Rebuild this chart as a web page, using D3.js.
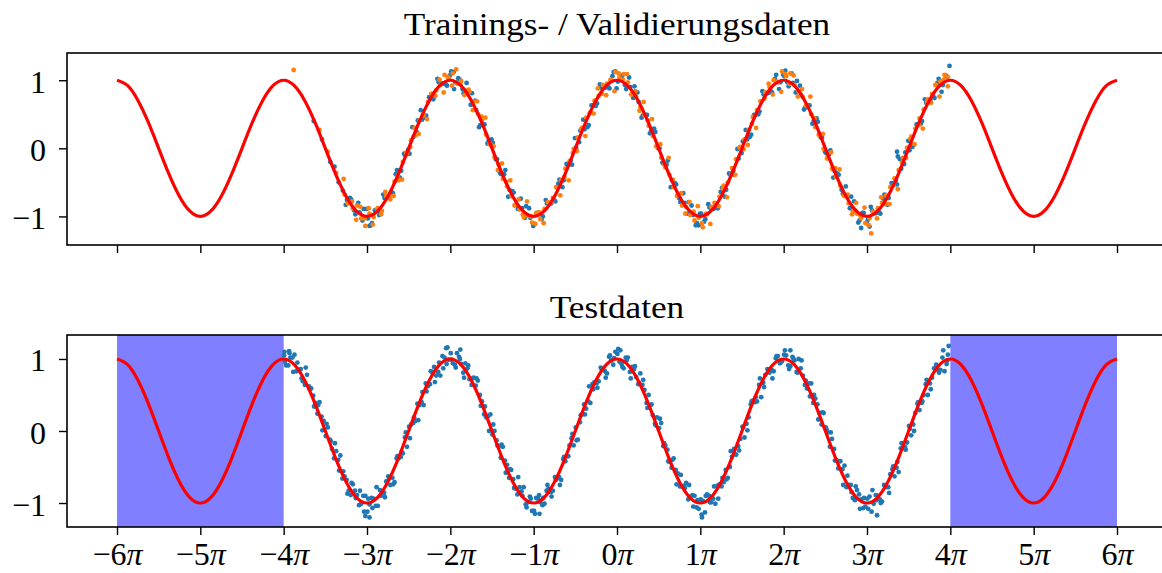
<!DOCTYPE html>
<html>
<head>
<meta charset="utf-8">
<script src="https://d3js.org/d3.v7.min.js"></script>
<style>
  body { margin: 0; background: #fff; }
  svg text { font-family: "Liberation Serif", "Times New Roman", serif; fill: #000; }
</style>
</head>
<body>
<script>
// all x values are in units of pi

const xTicks = [-6, -5, -4, -3, -2, -1, 0, 1, 2, 3, 4, 5, 6];
const xTickLabels = ["−6", "−5", "−4", "−3", "−2", "−1", "0", "1", "2", "3", "4", "5", "6"];
const yTicks = [-1, 0, 1];
const yTickLabels = ["−1", "0", "1"];
const titles = ["Trainings- / Validierungsdaten", "Testdaten"];

// red reference curve, one value every pi/8 from -6pi to 6pi
const curveY = [
  1, .924, .707, .383, 0, -.383, -.707, -.924, -1, -.924, -.707, -.383, 0, .383, .707, .924,
  1, .924, .707, .383, 0, -.383, -.707, -.924, -1, -.924, -.707, -.383, 0, .383, .707, .924,
  1, .924, .707, .383, 0, -.383, -.707, -.924, -1, -.924, -.707, -.383, 0, .383, .707, .924,
  1, .924, .707, .383, 0, -.383, -.707, -.924, -1, -.924, -.707, -.383, 0, .383, .707, .924,
  1, .924, .707, .383, 0, -.383, -.707, -.924, -1, -.924, -.707, -.383, 0, .383, .707, .924,
  1, .924, .707, .383, 0, -.383, -.707, -.924, -1, -.924, -.707, -.383, 0, .383, .707, .924,
  1
];

// shaded ranges in the test panel
const testRegions = [[-6, -4], [4, 6]];

// training points (blue)
const trainPts = [
  [-3.64,0.40],[-3.54,0.13],[-3.44,-0.20],[-3.39,-0.27],[-3.34,-0.50],[-3.29,-0.62],[-3.24,-0.76],
  [-3.19,-0.75],[-3.14,-0.97],[-3.09,-0.94],[-3.04,-0.89],[-2.99,-1.03],[-2.94,-1.10],[-2.89,-0.91],[-2.84,-0.94],[-2.79,-0.73],[-2.74,-0.71],
  [-2.69,-0.66],[-2.64,-0.32],[-2.59,-0.33],[-2.54,-0.10],[-2.49,-0.08],[-2.44,0.17],[-2.39,0.41],[-2.34,0.42],[-2.29,0.48],[-2.24,0.75],
  [-2.19,0.76],[-2.14,0.97],[-2.09,0.95],[-2.04,0.92],[-1.99,1.13],[-1.94,0.97],[-1.89,1.01],[-1.84,0.81],[-1.79,0.82],[-1.74,0.81],
  [-1.69,0.56],[-1.64,0.34],[-1.59,0.35],[-1.54,0.11],[-1.49,0.08],[-1.44,-0.16],[-1.39,-0.38],[-1.34,-0.32],[-1.29,-0.61],[-1.24,-0.65],
  [-1.19,-0.89],[-1.14,-0.88],[-1.09,-0.85],[-1.04,-1.02],[-0.99,-1.11],[-0.94,-0.95],[-0.89,-1.00],[-0.84,-0.81],[-0.79,-0.81],[-0.74,-0.78],
  [-0.69,-0.46],[-0.64,-0.47],[-0.59,-0.25],[-0.54,-0.24],[-0.49,0.01],[-0.44,0.26],[-0.39,0.28],[-0.34,0.34],[-0.29,0.63],[-0.24,0.66],
  [-0.19,0.89],[-0.14,0.89],[-0.09,0.88],[-0.04,1.12],[0.01,0.98],[0.06,1.05],[0.11,0.87],[0.16,0.90],[0.21,0.91],[0.26,0.68],
  [0.31,0.48],[0.36,0.49],[0.41,0.26],[0.46,0.24],[0.51,0.00],[0.56,-0.23],[0.61,-0.18],[0.66,-0.47],[0.71,-0.53],[0.76,-0.79],
  [0.81,-0.80],[0.86,-0.79],[0.91,-0.98],[0.96,-1.10],[1.01,-0.96],[1.06,-1.04],[1.11,-0.87],[1.16,-0.89],[1.21,-0.88],[1.26,-0.58],
  [1.31,-0.61],[1.36,-0.39],[1.41,-0.39],[1.46,-0.15],[1.51,0.10],[1.56,0.13],[1.61,0.20],[1.66,0.49],[1.71,0.54],[1.76,0.79],
  [1.81,0.81],[1.86,0.82],[1.91,1.08],[1.96,0.97],[2.01,1.06],[2.06,0.91],[2.11,0.96],[2.16,0.99],[2.21,0.78],[2.26,0.60],
  [2.31,0.63],[2.36,0.40],[2.41,0.39],[2.46,0.16],[2.51,-0.07],[2.56,-0.03],[2.61,-0.33],[2.66,-0.39],[2.71,-0.67],[2.76,-0.70],
  [2.81,-0.71],[2.86,-0.92],[2.91,-1.06],[2.96,-0.95],[3.01,-1.05],[3.06,-0.91],[3.11,-0.95],[3.16,-0.96],[3.21,-0.68],[3.26,-0.73],
  [3.31,-0.53],[3.36,-0.53],[3.41,-0.30],[3.46,-0.06],[3.51,-0.03],[3.56,0.05],[3.61,0.35],[3.66,0.40],[3.71,0.67],[3.76,0.71],
  [3.81,0.74],[3.86,1.02],[3.91,0.93],[3.96,1.05],
  [3.36,-0.05],[3.37,-0.12],[3.99,1.21],[2.93,-1.17],[3.03,-1.15],[-2.97,-1.14],[0.98,-1.13],[-0.02,1.13],[2.02,1.14],[-1.96,1.12],
  // second batch
  [-3.255,-0.83],[-3.205,-0.73],[-3.155,-0.91],[-3.105,-0.80],[-3.055,-1.06],[-3.005,-0.89],[-2.955,-1.13],[-2.905,-0.91],[-2.855,-0.98],[-2.805,-0.68],
  [-2.755,-0.71],[-2.705,-0.64],[-2.655,-0.38],[-2.605,-0.43],[-2.555,-0.08],[-2.505,-0.02],[-2.455,0.31],[-2.405,0.24],[-2.355,0.56],[-2.305,0.45],
  [-2.255,0.75],[-2.205,0.72],[-2.155,1.02],[-2.105,0.95],[-2.055,0.94],[-2.005,1.07],[-1.955,0.87],[-1.905,1.03],[-1.855,0.87],[-1.805,0.96],
  [-1.755,0.64],[-1.705,0.70],[-1.655,0.31],[-1.605,0.35],[-1.555,0.07],[-1.505,0.13],[-1.455,-0.16],[-1.405,-0.36],[-1.355,-0.38],[-1.305,-0.71],
  [-1.255,-0.63],[-1.205,-0.83],[-1.155,-0.74],[-1.105,-1.02],[-1.055,-0.88],[-1.005,-1.14],[-0.955,-0.95],[-0.905,-1.04],[-0.855,-0.76],[-0.805,-0.81],
  [-0.755,-0.76],[-0.705,-0.52],[-0.655,-0.57],[-0.605,-0.23],[-0.555,-0.18],[-0.505,0.15],[-0.455,0.09],[-0.405,0.42],[-0.355,0.31],[-0.305,0.63],
  [-0.255,0.62],[-0.205,0.94],[-0.155,0.89],[-0.105,0.90],[-0.055,1.06],[-0.005,0.88],[0.045,1.07],[0.095,0.93],[0.145,1.04],[0.195,0.74],
  [0.245,0.82],[0.295,0.45],[0.345,0.49],[0.395,0.22],[0.445,0.29],[0.495,0.00],[0.545,-0.21],[0.595,-0.24],[0.645,-0.57],[0.695,-0.51],
  [0.745,-0.73],[0.795,-0.66],[0.845,-0.96],[0.895,-0.84],[0.945,-1.13],[0.995,-0.96],[1.045,-1.08],[1.095,-0.82],[1.145,-0.89],[1.195,-0.86],
  [1.245,-0.64],[1.295,-0.71],[1.345,-0.37],[1.395,-0.33],[1.445,-0.01],[1.495,-0.07],[1.545,0.27],[1.595,0.17],[1.645,0.49],[1.695,0.50],
  [1.745,0.84],[1.795,0.81],[1.845,0.84],[1.895,1.02],[1.945,0.87],[1.995,1.08],[2.045,0.97],[2.095,1.10],[2.145,0.82],[2.195,0.92],
  [2.245,0.57],[2.295,0.63],[2.345,0.36],[2.395,0.44],[2.445,0.16],[2.495,-0.05],[2.545,-0.09],[2.595,-0.43],[2.645,-0.37],[2.695,-0.61],
  [2.745,-0.56],[2.795,-0.88],[2.845,-0.78],[2.895,-1.09],[2.945,-0.95],[2.995,-1.09],[3.045,-0.86],[3.095,-0.95],[3.145,-0.94],[3.195,-0.74],
  [3.245,-0.83],[3.295,-0.51],[3.345,-0.47],[3.395,-0.16],[3.445,-0.23],[3.495,0.11],[3.545,0.02],[3.595,0.35],[3.645,0.36],[3.695,0.72],
  [3.745,0.71],[3.795,0.76],[3.845,0.96],[3.895,0.83],[3.945,1.07]
];

// validation points (orange)
const valPts = [
  [-3.88,1.15],[-3.57,0.27],[-3.47,-0.05],[-3.37,-0.36],[-3.27,-0.68],[-3.22,-0.80],
  [-3.17,-0.88],[-3.12,-0.84],[-3.07,-1.03],[-3.02,-1.14],[-2.97,-0.96],[-2.92,-1.01],[-2.87,-0.88],[-2.82,-0.92],[-2.77,-0.70],[-2.72,-0.75],
  [-2.67,-0.49],[-2.62,-0.47],[-2.57,-0.20],[-2.52,-0.07],[-2.47,0.12],[-2.42,0.19],[-2.37,0.41],[-2.32,0.49],[-2.27,0.68],[-2.22,0.80],
  [-2.17,0.85],[-2.12,0.93],[-2.07,1.08],[-2.02,1.03],[-1.97,1.10],[-1.92,0.95],[-1.87,0.99],[-1.82,0.85],[-1.77,0.83],[-1.72,0.69],
  [-1.67,0.51],[-1.62,0.41],[-1.57,0.20],[-1.52,0.07],[-1.47,-0.13],[-1.42,-0.24],[-1.37,-0.45],[-1.32,-0.56],[-1.27,-0.70],[-1.22,-0.83],
  [-1.17,-0.90],[-1.12,-1.01],[-1.07,-0.99],[-1.02,-1.09],[-0.97,-0.95],[-0.92,-1.04],[-0.87,-0.89],[-0.82,-0.80],[-0.77,-0.73],[-0.72,-0.58],
  [-0.67,-0.47],[-0.62,-0.30],[-0.57,-0.19],[-0.52,-0.01],[-0.47,0.16],[-0.42,0.30],[-0.37,0.45],[-0.32,0.53],[-0.27,0.70],[-0.22,0.77],
  [-0.17,0.93],[-0.12,0.95],[-0.07,1.01],[-0.02,1.12],[0.03,1.04],[0.08,1.09],[0.13,0.97],[0.18,0.80],[0.23,0.76],[0.28,0.60],
  [0.33,0.48],[0.38,0.33],[0.43,0.18],[0.48,0.03],[0.53,-0.14],[0.58,-0.28],[0.63,-0.39],[0.68,-0.57],[0.73,-0.67],[0.78,-0.84],
  [0.83,-0.86],[0.88,-0.98],[0.93,-1.06],[0.98,-1.02],[1.03,-1.16],[1.08,-0.97],[1.13,-0.86],[1.18,-0.83],[1.23,-0.71],[1.28,-0.55],
  [1.33,-0.50],[1.38,-0.29],[1.43,-0.16],[1.48,0.02],[1.53,0.13],[1.58,0.27],[1.63,0.46],[1.68,0.56],[1.73,0.69],[1.78,0.82],
  [1.83,0.90],[1.88,1.00],[1.93,0.97],[1.98,1.13],[2.03,1.06],[2.08,1.10],[2.13,0.93],[2.18,0.84],[2.23,0.75],[2.28,0.62],
  [2.33,0.50],[2.38,0.31],[2.43,0.21],[2.48,-0.01],[2.53,-0.12],[2.58,-0.30],[2.63,-0.42],[2.68,-0.55],[2.73,-0.70],[2.78,-0.81],
  [2.83,-0.93],[2.88,-0.96],[2.93,-1.03],[2.98,-1.10],[3.03,-1.03],[3.05,-1.25],[3.08,-0.96],[3.13,-0.88],[3.18,-0.80],[3.23,-0.69],
  [3.28,-0.57],[3.33,-0.44],[3.38,-0.32],[3.43,-0.14],[3.48,0.01],[3.53,0.17],[3.58,0.29],[3.63,0.44],[3.68,0.57],[3.73,0.72],
  [3.78,0.80],[3.83,0.93],[3.88,0.98],[3.93,1.08],[3.97,1.05],
  // second batch
  [-3.28,-0.45],[-3.23,-0.81],[-3.18,-0.78],[-3.13,-1.05],[-3.08,-0.86],[-3.03,-1.03],[-2.98,-0.88],[-2.93,-1.12],[-2.88,-0.89],[-2.83,-0.97],
  [-2.78,-0.64],[-2.73,-0.72],[-2.68,-0.70],[-2.63,-0.40],[-2.58,-0.46],[-2.53,-0.06],[-2.48,0.02],[-2.43,0.30],[-2.38,0.21],[-2.33,0.48],
  [-2.28,0.43],[-2.23,0.80],[-2.18,0.77],[-2.13,1.01],[-2.08,0.82],[-2.03,1.05],[-1.98,0.92],[-1.93,1.16],[-1.88,0.94],[-1.83,0.78],
  [-1.78,0.86],[-1.73,0.56],[-1.68,0.69],[-1.63,0.47],[-1.58,0.45],[-1.53,0.06],[-1.48,0.03],[-1.43,-0.32],[-1.38,-0.22],[-1.33,-0.49],
  [-1.28,-0.47],[-1.23,-0.84],[-1.18,-0.75],[-1.13,-0.97],[-1.08,-0.78],[-1.03,-1.00],[-0.98,-1.11],[-0.93,-0.94],[-0.88,-1.10],[-0.83,-0.79],
  [-0.78,-0.79],[-0.73,-0.57],[-0.68,-0.69],[-0.63,-0.42],[-0.58,-0.47],[-0.53,-0.07],[-0.48,-0.04],[-0.43,0.28],[-0.38,0.18],[-0.33,0.51],
  [-0.28,0.51],[-0.23,0.88],[-0.18,0.80],[-0.13,0.78],[-0.08,1.00],[-0.03,0.84],[0.02,1.10],[0.07,1.01],[0.12,1.09],[0.17,0.79],
  [0.22,0.84],[0.27,0.55],[0.32,0.68],[0.37,0.41],[0.42,0.43],[0.47,0.03],[0.52,0.06],[0.57,-0.24],[0.62,-0.14],[0.67,-0.46],
  [0.72,-0.70],[0.77,-0.66],[0.82,-0.96],[0.87,-0.79],[0.92,-0.93],[0.97,-0.85],[1.02,-1.10],[1.07,-0.96],[1.12,-1.11],[1.17,-0.80],
  [1.22,-0.85],[1.27,-0.59],[1.32,-0.72],[1.37,-0.39],[1.42,-0.39],[1.47,0.01],[1.52,-0.01],[1.57,0.05],[1.62,0.36],[1.67,0.30],
  [1.72,0.69],[1.77,0.73],[1.82,0.95],[1.87,0.79],[1.92,0.98],[1.97,0.83],[2.02,1.09],[2.07,0.95],[2.12,1.07],[2.17,0.76],
  [2.22,0.87],[2.27,0.63],[2.32,0.76],[2.37,0.44],[2.42,0.20],[2.47,0.21],[2.52,-0.15],[2.57,-0.06],[2.62,-0.29],[2.67,-0.31],
  [2.72,-0.69],[2.77,-0.68],[2.82,-0.97],[2.87,-0.80],[2.92,-0.99],[2.97,-0.87],[3.02,-1.13],[3.07,-0.93],[3.12,-1.03],[3.17,-0.72],
  [3.22,-0.82],[3.27,-0.82],[3.32,-0.54],[3.37,-0.60],[3.42,-0.21],[3.47,-0.14],[3.52,0.14],[3.57,0.06],[3.62,0.34],[3.67,0.29],
  [3.72,0.68],[3.77,0.67],[3.82,0.93],[3.87,0.76],[3.92,1.01],[3.97,0.91]
];

// test points (blue, lower panel)
const testPts = [
  [-3.995,1.05],[-3.945,0.91],[-3.895,1.02],[-3.845,0.83],[-3.795,0.86],[-3.745,0.64],[-3.695,0.62],[-3.645,0.49],[-3.595,0.24],[-3.545,0.20],
  [-3.495,-0.07],[-3.445,-0.12],[-3.395,-0.38],[-3.345,-0.40],[-3.295,-0.66],[-3.245,-0.68],[-3.195,-0.89],[-3.145,-0.83],[-3.095,-1.03],[-3.045,-0.90],
  [-2.995,-1.12],[-2.945,-0.93],[-2.895,-1.04],[-2.845,-0.82],[-2.795,-0.86],[-2.745,-0.63],[-2.695,-0.65],[-2.645,-0.38],[-2.595,-0.36],[-2.545,-0.09],
  [-2.495,0.06],[-2.445,0.11],[-2.395,0.38],[-2.345,0.40],[-2.295,0.66],[-2.245,0.65],[-2.195,0.89],[-2.145,0.82],[-2.095,1.04],[-2.045,0.93],
  [-1.995,1.08],[-1.945,0.92],[-1.895,1.03],[-1.845,0.81],[-1.795,0.87],[-1.745,0.64],[-1.695,0.63],[-1.645,0.50],[-1.595,0.23],[-1.545,0.21],
  [-1.495,-0.05],[-1.445,-0.13],[-1.395,-0.37],[-1.345,-0.41],[-1.295,-0.65],[-1.245,-0.67],[-1.195,-0.88],[-1.145,-0.84],[-1.095,-1.02],[-1.045,-0.91],
  [-0.995,-1.11],[-0.945,-0.94],[-0.895,-1.03],[-0.845,-0.83],[-0.795,-0.85],[-0.745,-0.64],[-0.695,-0.64],[-0.645,-0.39],[-0.595,-0.35],[-0.545,-0.10],
  [-0.495,0.05],[-0.445,0.12],[-0.395,0.37],[-0.345,0.41],[-0.295,0.65],[-0.245,0.66],[-0.195,0.88],[-0.145,0.83],[-0.095,1.03],[-0.045,0.92],
  [0.005,1.07],[0.055,0.93],[0.105,1.02],[0.155,0.82],[0.205,0.86],[0.255,0.65],[0.305,0.64],[0.355,0.39],[0.405,0.36],[0.455,0.10],
  [0.505,0.04],[0.555,-0.21],[0.605,-0.26],[0.655,-0.51],[0.705,-0.54],[0.755,-0.77],[0.805,-0.76],[0.855,-0.95],[0.905,-0.89],[0.955,-1.06],
  [1.005,-0.95],[1.055,-1.13],[1.105,-0.90],[1.155,-0.94],[1.205,-0.76],[1.255,-0.77],[1.305,-0.54],[1.355,-0.50],[1.405,-0.25],[1.455,-0.21],
  [1.505,0.06],[1.555,0.10],[1.605,0.37],[1.655,0.40],[1.705,0.64],[1.755,0.67],[1.805,0.86],[1.855,0.85],[1.905,1.01],[1.955,0.94],
  [2.005,1.06],[2.055,0.91],[2.105,1.03],[2.155,0.82],[2.205,0.87],[2.255,0.64],[2.305,0.66],[2.355,0.39],[2.405,0.37],[2.455,0.09],
  [2.505,0.05],[2.555,-0.22],[2.605,-0.25],[2.655,-0.52],[2.705,-0.53],[2.755,-0.78],[2.805,-0.75],[2.855,-0.96],[2.905,-0.88],[2.955,-1.07],
  [3.005,-0.94],[3.055,-1.12],[3.105,-0.89],[3.155,-0.95],[3.205,-0.75],[3.255,-0.78],[3.305,-0.53],[3.355,-0.51],[3.405,-0.24],[3.455,-0.22],
  [3.505,0.07],[3.555,0.09],[3.605,0.38],[3.655,0.39],[3.705,0.65],[3.755,0.66],[3.805,0.87],[3.855,0.84],[3.905,1.02],[3.955,0.93],
  // second pass
  [-3.97,0.91],[-3.92,1.02],[-3.87,1.06],[-3.82,0.85],[-3.77,0.69],[-3.72,0.78],[-3.67,0.59],[-3.62,0.39],[-3.57,0.40],[-3.52,0.14],
  [-3.47,0.05],[-3.42,-0.25],[-3.37,-0.28],[-3.32,-0.34],[-3.27,-0.63],[-3.22,-0.83],[-3.17,-0.74],[-3.12,-0.89],[-3.07,-1.01],[-3.02,-0.90],
  [-2.97,-1.02],[-2.92,-0.94],[-2.87,-1.04],[-2.82,-0.86],[-2.77,-0.70],[-2.72,-0.75],[-2.67,-0.71],[-2.62,-0.38],[-2.57,-0.31],[-2.52,-0.22],
  [-2.47,0.09],[-2.42,0.14],[-2.37,0.36],[-2.32,0.36],[-2.27,0.62],[-2.22,0.82],[-2.17,0.77],[-2.12,0.77],[-2.07,1.02],[-2.02,0.99],
  [-1.97,0.94],[-1.92,1.08],[-1.87,0.93],[-1.82,0.94],[-1.77,0.72],[-1.72,0.74],[-1.67,0.70],[-1.62,0.41],[-1.57,0.19],[-1.52,0.23],
  [-1.47,0.00],[-1.42,-0.22],[-1.37,-0.22],[-1.32,-0.47],[-1.27,-0.54],[-1.22,-0.80],[-1.17,-0.78],[-1.12,-0.78],[-1.07,-0.99],[-1.02,-1.11],
  [-0.97,-0.93],[-0.92,-0.99],[-0.87,-1.01],[-0.82,-0.80],[-0.77,-0.83],[-0.72,-0.66],[-0.67,-0.68],[-0.62,-0.42],[-0.57,-0.20],[-0.52,-0.20],
  [-0.47,-0.12],[-0.42,0.23],[-0.37,0.31],[-0.32,0.39],[-0.27,0.68],[-0.22,0.69],[-0.17,0.86],[-0.12,0.80],[-0.07,0.98],[-0.02,1.10],
  [0.03,0.96],[0.08,0.87],[0.13,1.02],[0.18,0.89],[0.23,0.75],[0.28,0.80],[0.33,0.57],[0.38,0.50],[0.43,0.22],[0.48,0.19],
  [0.53,0.11],[0.58,-0.20],[0.63,-0.43],[0.68,-0.38],[0.73,-0.59],[0.78,-0.77],[0.83,-0.72],[0.88,-0.91],[0.93,-0.90],[0.98,-1.08],
  [1.03,-0.97],[1.08,-0.88],[1.13,-0.99],[1.18,-1.01],[1.23,-0.74],[1.28,-0.71],[1.33,-0.65],[1.38,-0.36],[1.43,-0.33],[1.48,-0.11],
  [1.53,-0.09],[1.58,0.19],[1.63,0.42],[1.68,0.41],[1.73,0.47],[1.78,0.78],[1.83,0.81],[1.88,0.83],[1.93,1.04],[1.98,0.97],
  [2.03,1.05],[2.08,0.90],[2.13,0.98],[2.18,1.00],[2.23,0.77],[2.28,0.59],[2.33,0.66],[2.38,0.45],[2.43,0.25],[2.48,0.25],
  [2.53,-0.02],[2.58,-0.11],[2.63,-0.40],[2.68,-0.42],[2.73,-0.48],[2.78,-0.75],[2.83,-0.93],[2.88,-0.82],[2.93,-0.95],[2.98,-1.05],
  [3.03,-0.91],[3.08,-1.01],[3.13,-0.90],[3.18,-0.98],[3.23,-0.78],[3.28,-0.60],[3.33,-0.63],[3.38,-0.57],[3.43,-0.24],[3.48,-0.16],
  [3.53,-0.06],[3.58,0.25],[3.63,0.29],[3.68,0.50],[3.73,0.50],[3.78,0.74],[3.83,0.92],[3.88,0.85],[3.93,0.83],[3.97,1.06],
  // third pass
  [-3.985,0.96],[-3.935,1.11],[-3.885,0.82],[-3.835,0.95],[-3.785,0.73],[-3.735,0.88],[-3.685,0.58],[-3.635,0.34],[-3.585,0.36],[-3.535,0.01],
  [-3.485,0.10],[-3.435,-0.14],[-3.385,-0.17],[-3.335,-0.55],[-3.285,-0.56],[-3.235,-0.87],[-3.185,-0.72],[-3.135,-0.93],[-3.085,-0.83],[-3.035,-1.12],
  [-2.985,-0.94],[-2.935,-1.07],[-2.885,-0.78],[-2.835,-0.90],[-2.785,-0.92],[-2.735,-0.66],[-2.685,-0.74],[-2.635,-0.35],[-2.585,-0.29],[-2.535,-0.02],
  [-2.485,-0.10],[-2.435,0.19],[-2.385,0.15],[-2.335,0.54],[-2.285,0.55],[-2.235,0.83],[-2.185,0.68],[-2.135,0.95],[-2.085,0.87],[-2.035,1.16],
  [-1.985,0.99],[-1.935,0.88],[-1.885,1.00],[-1.835,0.74],[-1.785,0.91],[-1.735,0.73],[-1.685,0.73],[-1.635,0.35],[-1.585,0.34],[-1.535,0.00],
  [-1.485,0.09],[-1.435,-0.20],[-1.385,-0.19],[-1.335,-0.58],[-1.285,-0.53],[-1.235,-0.79],[-1.185,-0.64],[-1.135,-0.90],[-1.085,-1.06],[-1.035,-0.94],
  [-0.985,-1.15],[-0.935,-0.89],[-0.885,-0.93],[-0.835,-0.75],[-0.785,-0.91],[-0.735,-0.68],[-0.685,-0.75],[-0.635,-0.36],[-0.585,-0.35],[-0.535,-0.04],
  [-0.485,-0.13],[-0.435,0.22],[-0.385,0.23],[-0.335,0.62],[-0.285,0.58],[-0.235,0.60],[-0.185,0.86],[-0.135,0.74],[-0.085,1.05],[-0.035,1.01],
  [0.015,1.14],[0.065,0.89],[0.115,0.98],[0.165,0.73],[0.215,0.90],[0.265,0.67],[0.315,0.71],[0.365,0.32],[0.415,0.37],[0.465,0.08],
  [0.515,0.17],[0.565,-0.17],[0.615,-0.42],[0.665,-0.40],[0.715,-0.74],[0.765,-0.61],[0.815,-0.79],[0.865,-0.75],[0.915,-1.05],[0.965,-0.96],
  [1.015,-1.16],[1.065,-0.90],[1.115,-0.99],[1.165,-0.77],[1.215,-0.94],[1.265,-0.65],[1.315,-0.67],[1.365,-0.28],[1.415,-0.32],[1.465,-0.27],
  [1.515,0.05],[1.565,0.01],[1.615,0.41],[1.665,0.47],[1.715,0.73],[1.765,0.61],[1.815,0.84],[1.865,0.73],[1.915,1.04],[1.965,0.95],
  [2.015,1.12],[2.065,0.86],[2.115,1.01],[2.165,0.81],[2.215,0.98],[2.265,0.70],[2.315,0.48],[2.365,0.50],[2.415,0.16],[2.465,0.26],
  [2.515,0.02],[2.565,-0.02],[2.615,-0.41],[2.665,-0.42],[2.715,-0.75],[2.765,-0.62],[2.815,-0.85],[2.865,-0.77],[2.915,-1.08],[2.965,-0.93],
  [3.015,-1.08],[3.065,-0.82],[3.115,-0.96],[3.165,-1.00],[3.215,-0.76],[3.265,-0.86],[3.315,-0.49],[3.365,-0.43],[3.415,-0.17],[3.465,-0.26],
  [3.515,0.03],[3.565,0.00],[3.615,0.40],[3.665,0.41],[3.715,0.71],[3.765,0.58],[3.815,0.87],[3.865,0.81],[3.915,1.12],[3.965,0.98],
  [-3.02,-1.18],[-2.97,-1.20],[-0.93,-1.15],[1.02,-1.20],[3.12,-1.17],[-2.05,1.15],[-1.88,1.13],[2.08,1.12],[3.98,1.18],[-3.99,1.10],[-3.93,1.08],[0.04,1.12]
];

const W = 1162, H = 573;
const blue = "#1f77b4", orange = "#ff7f0e";

const svg = d3.select("body").append("svg")
  .attr("width", W).attr("height", H)
  .style("display", "block");

// x scale shared by both panels (matplotlib 5% margin)
const x = d3.scaleLinear().domain([-6.6, 6.6]).range([67, 1167]);
const curveX = d3.range(curveY.length).map(i => -6 + i / 8);
const curvePts = curveX.map((v, i) => [v, curveY[i]]);

const panels = [
  { top: 53, bottom: 245, dom: [-1.42, 1.40], title: titles[0], titleY: 35, xlabels: false },
  { top: 335, bottom: 527, dom: [-1.333, 1.333], title: titles[1], titleY: 318, xlabels: true }
];

panels.forEach((p, k) => {
  const y = d3.scaleLinear().domain(p.dom).range([p.bottom, p.top]);
  const g = svg.append("g");

  const clipId = "clip" + k;
  svg.append("clipPath").attr("id", clipId)
    .append("rect")
    .attr("x", x.range()[0]).attr("y", p.top)
    .attr("width", x.range()[1] - x.range()[0]).attr("height", p.bottom - p.top);

  const plot = g.append("g").attr("clip-path", `url(#${clipId})`);

  if (k == 1) {
    // shaded spans
    plot.selectAll("rect.span")
      .data(testRegions)
      .enter().append("rect")
      .attr("class", "span")
      .attr("x", d => x(d[0]))
      .attr("width", d => x(d[1]) - x(d[0]))
      .attr("y", p.top)
      .attr("height", p.bottom - p.top)
      .attr("fill", "#0000ff")
      .attr("fill-opacity", 0.5);
  }

  const dots = (data, color) => {
    plot.append("g").selectAll("circle")
      .data(data)
      .enter().append("circle")
      .attr("cx", d => x(d[0]))
      .attr("cy", d => y(d[1]))
      .attr("r", 2.4)
      .attr("fill", color);
  };

  if (k == 0) {
    dots(trainPts, blue);
    dots(valPts, orange);
  } else {
    dots(testPts, blue);
  }

  const line = d3.line()
    .x(d => x(d[0]))
    .y(d => y(d[1]))
    .curve(d3.curveNatural);

  plot.append("path")
    .datum(curvePts)
    .attr("d", line)
    .attr("fill", "none")
    .attr("stroke", "#ff0000")
    .attr("stroke-width", 3.2);

  // frame
  g.append("rect")
    .attr("x", x.range()[0]).attr("y", p.top)
    .attr("width", x.range()[1] - x.range()[0]).attr("height", p.bottom - p.top)
    .attr("fill", "none").attr("stroke", "#000").attr("stroke-width", 1.6);

  // x axis
  const xa = g.append("g")
    .attr("transform", `translate(0,${p.bottom})`)
    .call(d3.axisBottom(x).tickValues(xTicks).tickSize(8).tickSizeOuter(0));
  xa.attr("font-size", null).attr("font-family", null);
  xa.select(".domain").remove();
  xa.selectAll(".tick line").attr("stroke", "#000").attr("stroke-width", 1.4);
  if (p.xlabels) {
    xa.selectAll(".tick text")
      .text(null)
      .attr("y", 38).attr("dy", null)
      .style("font-size", "32px")
      .each(function (d) {
        const t = d3.select(this);
        t.append("tspan").text(xTickLabels[xTicks.indexOf(d)]);
        t.append("tspan").attr("font-style", "italic").text("π");
      });
  } else {
    xa.selectAll(".tick text").remove();
  }

  // y axis
  const ya = g.append("g")
    .attr("transform", `translate(${x.range()[0]},0)`)
    .call(d3.axisLeft(y).tickValues(yTicks).tickSize(8).tickSizeOuter(0)
      .tickFormat(d => yTickLabels[yTicks.indexOf(d)]));
  ya.attr("font-size", null).attr("font-family", null);
  ya.select(".domain").remove();
  ya.selectAll(".tick line").attr("stroke", "#000").attr("stroke-width", 1.4);
  ya.selectAll(".tick text")
    .attr("x", -21).attr("dy", 12)
    .style("font-size", "32px");

  // title
  const tt = g.append("text")
    .attr("x", (x.range()[0] + x.range()[1]) / 2)
    .attr("y", p.titleY)
    .attr("text-anchor", "middle")
    .style("font-size", "32px")
    .text(p.title);
  // stretch a bit to match the wider LaTeX font
  const w = tt.node().getComputedTextLength();
  tt.attr("textLength", w * 1.1).attr("lengthAdjust", "spacingAndGlyphs");
});
</script>
</body>
</html>
